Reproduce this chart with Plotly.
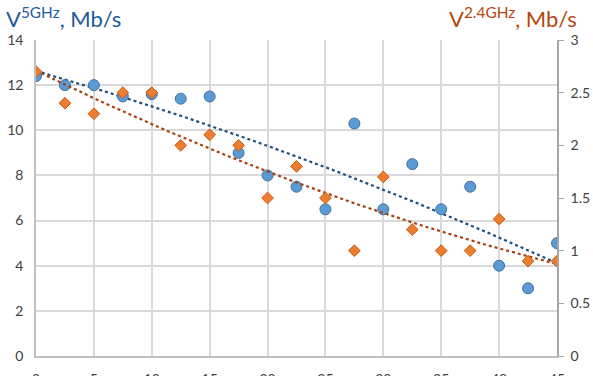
import numpy as np
import plotly.graph_objects as go

distance = [0, 2.5, 5, 7.5, 10, 12.5, 15, 17.5, 20, 22.5, 25, 27.5, 30, 32.5, 35, 37.5, 40, 42.5, 45]
v5ghz = [12.4, 12.0, 12.0, 11.5, 11.6, 11.4, 11.5, 9.0, 8.0, 7.5, 6.5, 10.3, 6.5, 8.5, 6.5, 7.5, 4.0, 3.0, 5.0]
v24ghz = [2.7, 2.4, 2.3, 2.5, 2.5, 2.0, 2.1, 2.0, 1.5, 1.8, 1.5, 1.0, 1.7, 1.2, 1.0, 1.0, 1.3, 0.9, 0.9]

x = np.array(distance)
b5 = np.polyfit(x, np.array(v5ghz), 2)
b24 = np.polyfit(x, np.array(v24ghz), 2)
xt = np.linspace(0, 45, 91)

font = "Lato, Calibri, sans-serif"
fig = go.Figure()
fig.add_trace(go.Scatter(x=xt, y=np.polyval(b5, xt), mode="lines",
                         line=dict(color="#1f4e79", width=2.2, dash="dot"), yaxis="y", showlegend=False))
fig.add_trace(go.Scatter(x=xt, y=np.polyval(b24, xt), mode="lines",
                         line=dict(color="#a9400c", width=2.2, dash="dot"), yaxis="y2", showlegend=False))
fig.add_trace(go.Scatter(x=distance, y=v5ghz, mode="markers", yaxis="y",
                         marker=dict(symbol="circle", size=11, color="#5b9bd5",
                                     line=dict(color="#41719c", width=1)), showlegend=False))
fig.add_trace(go.Scatter(x=distance, y=v24ghz, mode="markers", yaxis="y2",
                         marker=dict(symbol="diamond", size=9, color="#ed7d31",
                                     line=dict(color="#c55a11", width=1)), showlegend=False))

fig.update_layout(
    width=593, height=376,
    margin=dict(l=36, r=36, t=40, b=20),
    paper_bgcolor="white", plot_bgcolor="white",
    font=dict(family=font, size=14, color="#404040"),
    xaxis=dict(range=[0, 45], dtick=5, showgrid=True, gridcolor="#d9d9d9", gridwidth=1.5,
               showline=True, linecolor="#bfbfbf", linewidth=1.5, zeroline=False,
               ticks="", ticklabelstandoff=9, automargin=False),
    yaxis=dict(range=[0, 14], dtick=2, showgrid=True, gridcolor="#d9d9d9", gridwidth=1.5,
               showline=True, linecolor="#bfbfbf", linewidth=1.5, zeroline=False,
               ticks="", ticklabelstandoff=8, automargin=False),
    yaxis2=dict(range=[0, 3], dtick=0.5, overlaying="y", side="right", showgrid=False,
                showline=True, linecolor="#a6a6a6", linewidth=1.5, zeroline=False,
                ticks="outside", ticklen=5, tickcolor="#a6a6a6", ticklabelstandoff=4,
                automargin=False),
    annotations=[
        dict(text="V<sup>5GHz</sup>, Mb/s", x=0, y=1, xref="paper", yref="paper",
             xanchor="left", yanchor="bottom", xshift=-32, yshift=6, showarrow=False,
             font=dict(family=font, size=22, color="#1f5c99")),
        dict(text="V<sup>2.4GHz</sup>, Mb/s", x=1, y=1, xref="paper", yref="paper",
             xanchor="right", yanchor="bottom", xshift=22, yshift=6, showarrow=False,
             font=dict(family=font, size=22, color="#b5470f")),
    ],
)
fig.write_html("out.html", config={"displayModeBar": False},
               post_script="document.body.style.margin='0px';document.body.style.overflow='hidden';")
